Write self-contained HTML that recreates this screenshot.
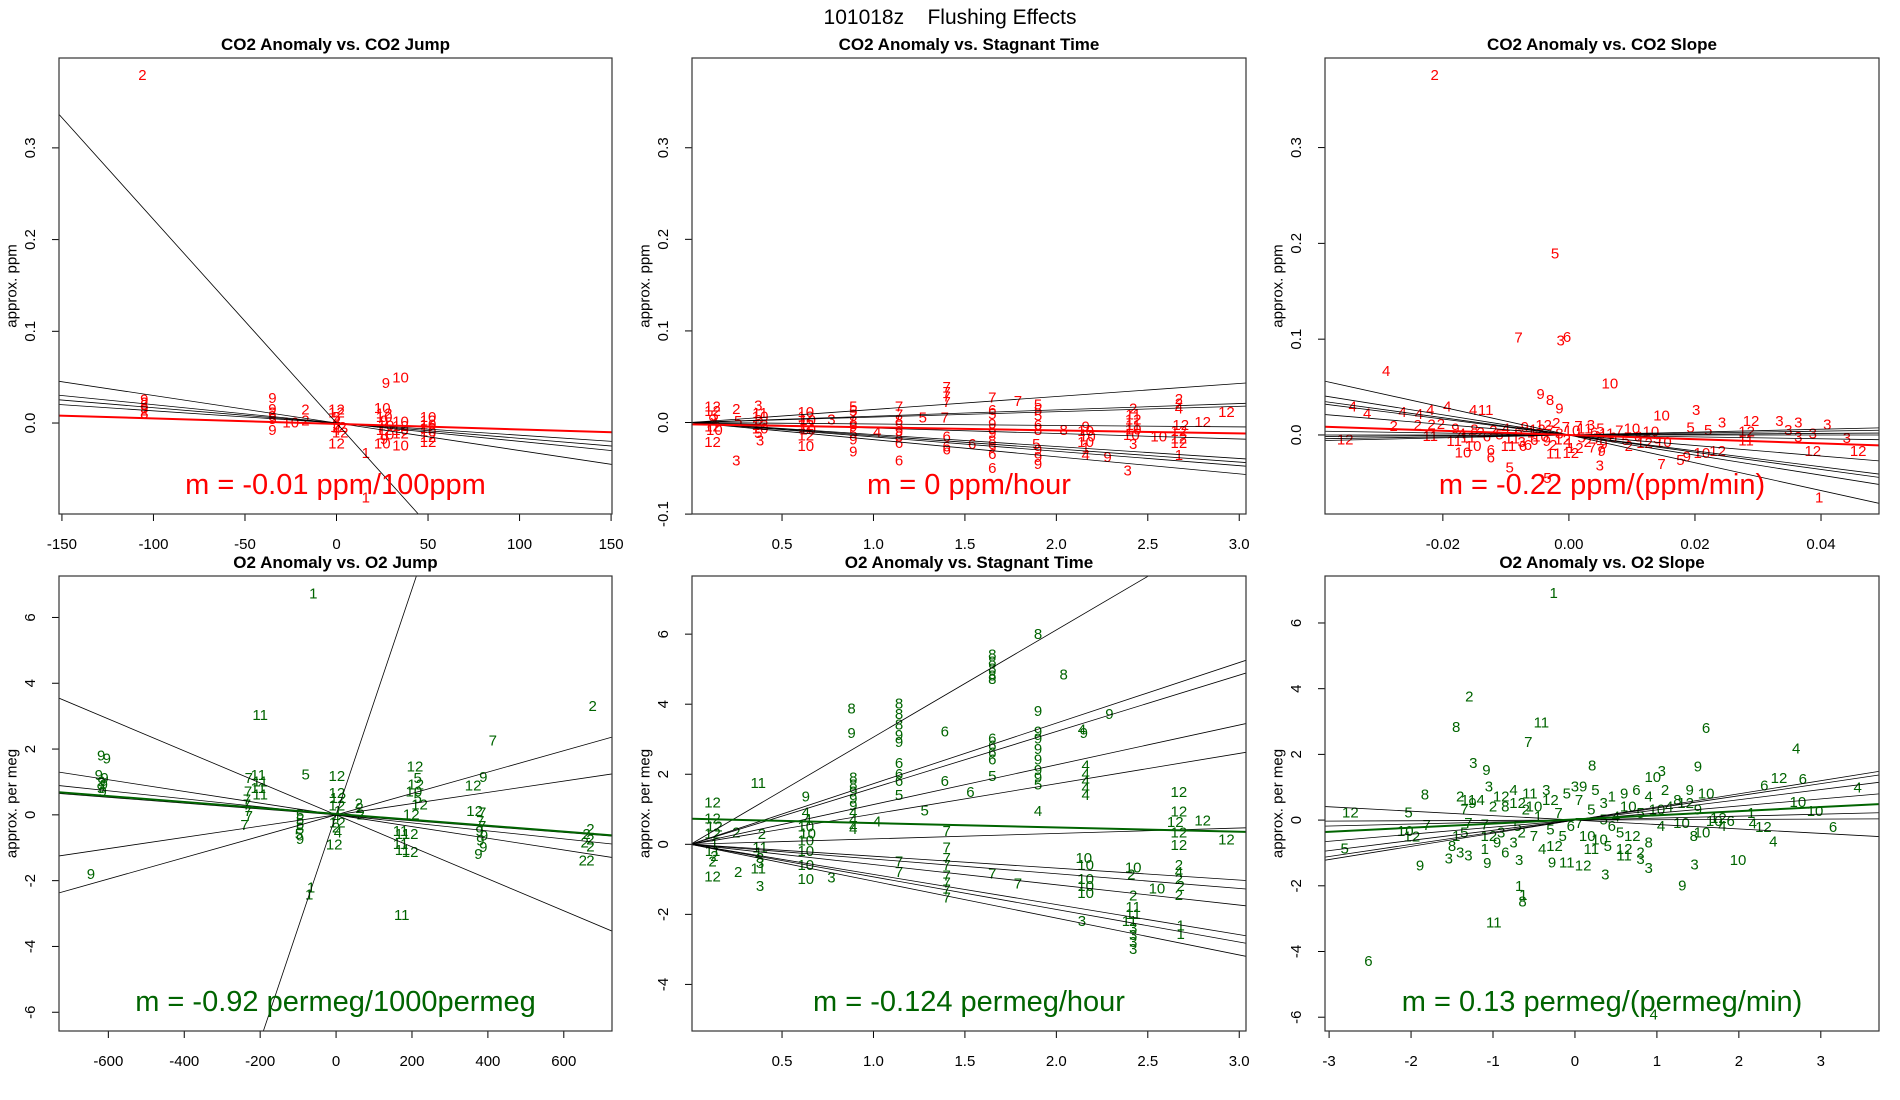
<!DOCTYPE html>
<html><head><meta charset="utf-8"><style>
html,body{margin:0;padding:0;background:#fff;width:1900px;height:1100px;overflow:hidden;}
svg{display:block;font-family:"Liberation Sans",Arial,sans-serif;}
</style></head><body>
<svg id="chart" width="1900" height="1100" viewBox="0 0 1900 1100" xmlns="http://www.w3.org/2000/svg">
<rect x="0" y="0" width="1900" height="1100" fill="#fff"/>
<text x="950" y="24" font-size="21" text-anchor="middle" style="white-space:pre">101018z    Flushing Effects</text>
</svg>
<script>
// ---------- data ----------
const co2JumpXTicks=[-150,-100,-50,0,50,100,150];
const co2YTicks=[0.0,0.1,0.2,0.3];
const co2YTickLabels=["0.0","0.1","0.2","0.3"];
const stagYTicks=[-0.1,0.0,0.1,0.2,0.3];
const stagYTickLabels=["-0.1","0.0","0.1","0.2","0.3"];
const timeXTicks=[0.5,1.0,1.5,2.0,2.5,3.0];
const timeXTickLabels=["0.5","1.0","1.5","2.0","2.5","3.0"];
const co2SlopeXTicks=[-0.02,0.0,0.02,0.04];
const co2SlopeXTickLabels=["-0.02","0.00","0.02","0.04"];
const o2JumpXTicks=[-600,-400,-200,0,200,400,600];
const o2YTicks=[-6,-4,-2,0,2,4,6];
const o2StagYTicks=[-4,-2,0,2,4,6];
const o2SlopeXTicks=[-3,-2,-1,0,1,2,3];

const co2JumpSlopes=[-0.00222,-0.0003,-0.0002,-0.000167,-0.000133];
const co2JumpFit=[-0.001,-0.00006];
const co2StagSlopes=[0.0142,0.0069,0.0059,-0.0016,-0.006,-0.0131,-0.0144,-0.0157,-0.0187];
const co2StagFit=[-0.002,-0.0033];
const co2SlopeSlopes=[-1.45,-1.05,-0.9,-0.83,-0.55,0.15,0.1,0.04,-0.1,0];
const co2SlopeFit=[0,-0.22];
const o2JumpSlopes=[0.0343,-0.00486,-0.00178,-0.00122,-0.00089,0.00171,0.00325];
const o2JumpFit=[0.03,-0.0009];
const o2StagSlopes=[3.06,1.73,1.61,1.135,0.865,0.155,-0.34,-0.42,-0.578,-0.86,-0.93,-1.053];
const o2StagFit=[0.73,-0.124];
const o2SlopeSlopes=[-0.135,0.01,0.06,0.215,0.31,0.37,0.40];
const o2SlopeFit=[0.02,0.126];

const co2JumpPoints=[[-106,0.379,'2'],[-105,0.025,'9'],[-105,0.022,'2'],[-105,0.019,'8'],[-105,0.016,'9'],[-105,0.013,'2'],[-105,0.010,'8'],
[-35,0.027,'9'],[-35,0.015,'9'],[-35,0.011,'2'],[-35,0.007,'9'],[-35,0.004,'5'],[-35,-0.008,'9'],[-25,0,'10'],[-17,0.014,'2'],[-17,0.002,'2'],
[0,0.014,'12'],[0,0.011,'12'],[0,0.006,'5'],[0,0.002,'4'],[0,-0.002,'5'],[1,-0.005,'12'],[0,-0.008,'4'],[2,-0.011,'12'],[0,-0.023,'12'],
[16,-0.033,'1'],[16,-0.082,'1'],[27,0.043,'9'],[35,0.049,'10'],[25,0.016,'10'],[26,0.010,'12'],[26,0.006,'10'],[26,0.002,'9'],[27,-0.003,'10'],[26,-0.008,'12'],[27,-0.013,'10'],[26,-0.018,'9'],[25,-0.023,'10'],
[35,0.001,'10'],[35,-0.004,'12'],[35,-0.008,'10'],[35,-0.012,'12'],[35,-0.025,'10'],
[50,0.006,'10'],[50,0.002,'12'],[50,-0.002,'10'],[50,-0.006,'12'],[50,-0.01,'10'],[50,-0.016,'12'],[50,-0.021,'12']];

const co2StagPoints=[[0.12,0.017,'12'],[0.12,0.012,'12'],[0.13,0.007,'5'],[0.12,0.003,'9'],[0.13,-0.001,'4'],[0.12,-0.005,'12'],[0.13,-0.009,'10'],[0.12,-0.022,'12'],
[0.25,0.014,'2'],[0.26,0.001,'5'],[0.25,-0.042,'3'],[0.37,0.018,'3'],[0.38,0.01,'11'],[0.38,0.006,'10'],[0.37,0.002,'3'],[0.38,-0.003,'12'],[0.38,-0.007,'10'],[0.37,-0.012,'5'],[0.38,-0.02,'3'],
[0.63,0.011,'10'],[0.63,0.006,'12'],[0.64,0.002,'10'],[0.63,-0.003,'12'],[0.64,-0.008,'10'],[0.63,-0.015,'12'],[0.63,-0.026,'10'],[0.77,0.003,'3'],
[0.89,0.017,'5'],[0.89,0.012,'5'],[0.89,0.006,'7'],[0.89,0.001,'8'],[0.89,-0.005,'9'],[0.89,-0.012,'5'],[0.89,-0.019,'9'],[0.89,-0.032,'9'],[1.02,-0.011,'4'],
[1.14,0.017,'7'],[1.14,0.008,'7'],[1.14,0.002,'8'],[1.14,-0.004,'5'],[1.14,-0.01,'9'],[1.14,-0.016,'8'],[1.14,-0.023,'6'],[1.14,-0.042,'6'],[1.27,0.005,'5'],
[1.4,0.038,'7'],[1.4,0.033,'7'],[1.4,0.028,'7'],[1.4,0.022,'7'],[1.39,0.005,'7'],[1.4,-0.016,'6'],[1.4,-0.03,'6'],[1.4,-0.027,'6'],
[1.65,0.027,'7'],[1.65,0.013,'6'],[1.65,0.009,'5'],[1.54,-0.024,'6'],[1.79,0.023,'7'],
[1.65,-0.002,'9'],[1.65,-0.007,'8'],[1.65,-0.012,'9'],[1.65,-0.02,'8'],[1.65,-0.028,'9'],[1.65,-0.035,'6'],[1.65,-0.05,'6'],
[1.9,0.019,'5'],[1.9,0.013,'5'],[1.9,0.007,'5'],[1.9,-0.003,'6'],[1.9,-0.009,'8'],[1.89,-0.024,'5'],[1.9,-0.03,'9'],[1.9,-0.038,'9'],[1.9,-0.046,'9'],[2.04,-0.009,'8'],
[2.16,-0.005,'9'],[2.16,-0.01,'10'],[2.17,-0.016,'10'],[2.16,-0.022,'10'],[2.16,-0.028,'1'],[2.16,-0.036,'4'],[2.28,-0.038,'9'],
[2.42,0.015,'2'],[2.42,0.008,'11'],[2.42,0.003,'12'],[2.42,-0.003,'11'],[2.42,-0.008,'10'],[2.41,-0.014,'10'],[2.42,-0.024,'3'],[2.39,-0.053,'3'],[2.56,-0.016,'10'],
[2.67,0.025,'2'],[2.67,0.02,'2'],[2.67,0.015,'4'],[2.68,-0.003,'12'],[2.67,-0.01,'12'],[2.67,-0.018,'12'],[2.67,-0.023,'12'],[2.67,-0.036,'1'],[2.80,0.0,'12'],[2.93,0.011,'12']];

const co2SlopePoints=[[-0.0213,0.375,'2'],[-0.0022,0.189,'5'],[-0.008,0.101,'7'],[-0.0013,0.098,'3'],[-0.0003,0.102,'6'],[-0.029,0.066,'4'],[0.0065,0.053,'10'],[-0.0045,0.042,'9'],[-0.003,0.036,'8'],[-0.0015,0.027,'9'],
[-0.0343,0.029,'4'],[-0.032,0.022,'4'],[-0.0264,0.0235,'4'],[-0.0238,0.0216,'4'],[-0.022,0.0253,'4'],[-0.0193,0.029,'4'],[-0.0152,0.0253,'4'],[-0.0132,0.0253,'11'],
[-0.0278,0.0086,'2'],[-0.024,0.0097,'2'],[-0.0218,0.0104,'2'],[-0.0203,0.011,'2'],[-0.0355,-0.0052,'12'],[-0.022,-0.0015,'11'],[-0.0182,-0.007,'11'],[-0.0168,-0.0186,'10'],[-0.0152,-0.012,'10'],
[-0.0124,-0.0239,'6'],[-0.0124,-0.0164,'6'],[-0.0096,-0.012,'11'],[-0.0073,-0.012,'6'],[-0.0094,-0.0343,'5'],[-0.0034,-0.0455,'5'],[-0.0024,-0.02,'11'],[0.0003,-0.0194,'12'],[0.0049,-0.0324,'3'],
[0.0037,-0.0138,'7'],[0.0052,-0.0175,'9'],[0.0147,-0.0306,'7'],[0.0177,-0.0268,'5'],[0.0187,-0.0231,'9'],[0.0211,-0.0194,'10'],[0.0236,-0.0175,'12'],[0.0387,-0.0175,'12'],[0.0459,-0.0175,'12'],[0.0397,-0.066,'1'],
[0.0289,0.0142,'12'],[0.0243,0.0123,'3'],[0.0193,0.0075,'5'],[0.0221,0.0048,'5'],[0.0334,0.0142,'3'],[0.0348,0.0048,'3'],[0.0364,0.0123,'3'],[0.0387,0.0011,'3'],[0.041,0.0104,'3'],[0.0441,-0.0037,'3'],
[0.0281,-0.0063,'11'],[0.0364,-0.0026,'3'],[0.0282,0.003,'12'],[0.0147,0.0198,'10'],[0.0202,0.0253,'3'],
[-0.018,0.006,'9'],[-0.017,0.001,'4'],[-0.016,-0.003,'11'],[-0.015,0.005,'8'],[-0.014,0.002,'2'],[-0.013,-0.002,'6'],[-0.012,0.004,'2'],[-0.011,0.0,'5'],[-0.010,0.006,'4'],[-0.009,-0.004,'11'],
[-0.008,0.003,'6'],[-0.0075,-0.008,'3'],[-0.007,0.008,'9'],[-0.006,0.002,'1'],[-0.0055,-0.006,'6'],[-0.005,0.005,'12'],[-0.0045,-0.002,'10'],[-0.004,0.010,'12'],[-0.0035,-0.007,'9'],[-0.003,0.004,'7'],
[-0.0025,-0.011,'2'],[-0.002,0.012,'2'],[-0.0015,0.001,'8'],[-0.001,-0.005,'12'],[-0.0005,0.008,'7'],[0,-0.009,'1'],[0.0005,0.004,'10'],[0.001,-0.014,'12'],[0.0015,0.009,'7'],[0.002,-0.003,'5'],
[0.0025,0.006,'11'],[0.003,-0.008,'2'],[0.0035,0.010,'3'],[0.004,0.002,'6'],[0.0045,-0.004,'7'],[0.005,0.006,'5'],[0.0055,-0.01,'9'],[0.006,0.001,'11'],[0.007,-0.003,'6'],[0.008,0.004,'7'],
[0.009,-0.006,'5'],[0.010,0.006,'10'],[0.011,-0.002,'8'],[0.012,-0.009,'12'],[0.013,0.003,'10'],[0.014,-0.004,'5'],[0.015,-0.008,'10'],[0.005,-0.015,'7'],[-0.0065,-0.011,'6'],[0.0095,-0.012,'2']];

const o2JumpPoints=[[-60,6.72,'1'],[-200,3.02,'11'],[676,3.29,'2'],[413,2.25,'7'],
[-619,1.79,'9'],[-604,1.70,'9'],[-625,1.2,'9'],[-610,1.1,'9'],[-618,1.0,'9'],[-612,0.9,'9'],[-620,0.8,'9'],[-615,0.7,'9'],[-646,-1.82,'9'],[-80,1.21,'5'],
[-230,1.1,'7'],[-205,1.2,'11'],[-200,1.0,'11'],[-205,0.8,'11'],[-232,0.7,'7'],[-200,0.6,'11'],[-235,0.45,'7'],[-235,0.3,'7'],[-232,0.1,'7'],[-230,-0.05,'7'],[-241,-0.33,'7'],
[-95,0.0,'5'],[-95,-0.15,'5'],[-95,-0.3,'5'],[-95,-0.45,'5'],[-98,-0.6,'5'],[-95,-0.75,'9'],
[2,1.16,'12'],[2,0.65,'12'],[5,0.5,'12'],[2,0.27,'12'],[5,0.1,'1'],[0,-0.1,'4'],[3,-0.25,'12'],[0,-0.4,'2'],[5,-0.55,'4'],[-5,-0.92,'12'],
[60,0.33,'2'],[62,0.2,'2'],[65,0.0,'2'],[-66,-2.22,'1'],[-71,-2.44,'1'],[173,-3.06,'11'],
[208,1.46,'12'],[215,1.1,'5'],[210,0.9,'12'],[205,0.7,'10'],[215,0.5,'5'],[220,0.3,'12'],[198,0.0,'12'],
[170,-0.5,'11'],[175,-0.6,'11'],[195,-0.6,'12'],[170,-0.9,'11'],[175,-1.08,'11'],[195,-1.14,'12'],
[361,0.87,'12'],[388,1.14,'9'],[365,0.1,'12'],[385,0.05,'7'],[380,-0.2,'7'],[385,-0.35,'7'],[378,-0.5,'9'],[390,-0.65,'9'],[380,-0.8,'9'],[388,-1.0,'9'],[375,-1.2,'9'],
[670,-0.45,'2'],[660,-0.6,'2'],[670,-0.76,'2'],[655,-0.85,'2'],[670,-0.98,'2'],[650,-1.41,'2'],[670,-1.41,'2']];

const o2StagPoints=[[0.12,1.18,'12'],[0.12,0.72,'12'],[0.13,0.5,'12'],[0.12,0.3,'12'],[0.13,0.0,'1'],[0.12,-0.2,'11'],[0.13,-0.35,'2'],[0.12,-0.5,'2'],[0.12,-0.94,'12'],
[0.25,0.32,'2'],[0.26,-0.8,'2'],[0.37,1.74,'11'],[0.39,0.28,'2'],[0.38,-0.1,'11'],[0.37,-0.25,'1'],[0.38,-0.4,'3'],[0.38,-0.55,'3'],[0.37,-0.7,'11'],[0.38,-1.21,'3'],
[0.63,1.35,'9'],[0.63,0.9,'4'],[0.64,0.7,'4'],[0.63,0.5,'10'],[0.64,0.3,'10'],[0.63,0.1,'10'],[0.63,-0.2,'10'],[0.63,-0.6,'10'],[0.63,-1.0,'10'],[0.77,-0.96,'3'],
[0.88,3.87,'8'],[0.88,3.16,'9'],[0.89,1.9,'8'],[0.89,1.7,'8'],[0.89,1.5,'9'],[0.89,1.3,'9'],[0.89,1.1,'9'],[0.89,0.9,'4'],[0.89,0.7,'4'],[0.89,0.5,'4'],[0.89,0.42,'4'],[1.02,0.64,'4'],
[1.14,4.0,'8'],[1.14,3.7,'8'],[1.14,3.4,'8'],[1.14,3.1,'9'],[1.14,2.9,'9'],[1.14,2.3,'6'],[1.14,2.0,'6'],[1.14,1.8,'6'],[1.14,1.4,'5'],[1.14,-0.5,'7'],[1.14,-0.8,'7'],
[1.28,0.95,'5'],[1.39,3.21,'6'],[1.39,1.79,'6'],
[1.4,0.37,'7'],[1.4,-0.1,'7'],[1.4,-0.4,'7'],[1.4,-0.6,'7'],[1.4,-0.9,'7'],[1.4,-1.1,'7'],[1.4,-1.3,'7'],[1.4,-1.54,'7'],[1.53,1.48,'6'],
[1.65,5.4,'8'],[1.65,5.2,'8'],[1.65,5.0,'8'],[1.65,4.8,'8'],[1.65,4.7,'8'],[1.65,3.0,'6'],[1.65,2.8,'6'],[1.65,2.6,'6'],[1.65,2.4,'6'],[1.65,1.94,'5'],[1.65,-0.85,'7'],
[1.9,5.99,'8'],[2.04,4.84,'8'],[1.9,3.79,'9'],[1.9,3.2,'9'],[1.9,3.0,'9'],[1.9,2.7,'9'],[1.9,2.4,'9'],[1.9,2.1,'9'],[1.9,1.9,'9'],[1.9,1.7,'5'],[1.9,0.93,'4'],
[1.79,-1.14,'7'],[2.29,3.7,'9'],[2.14,3.26,'4'],[2.15,3.16,'9'],[2.16,2.23,'4'],[2.16,2.0,'4'],[2.16,1.8,'4'],[2.16,1.6,'4'],[2.16,1.4,'4'],
[2.15,-0.4,'10'],[2.16,-0.6,'10'],[2.16,-1.0,'10'],[2.16,-1.2,'10'],[2.16,-1.4,'10'],[2.14,-2.2,'3'],[2.42,-0.68,'10'],[2.41,-0.87,'2'],[2.55,-1.28,'10'],
[2.42,-1.48,'2'],[2.42,-1.8,'11'],[2.42,-2.0,'11'],[2.4,-2.2,'11'],[2.42,-2.4,'3'],[2.42,-2.6,'3'],[2.42,-2.8,'3'],[2.42,-3.0,'3'],
[2.67,1.48,'12'],[2.67,0.92,'12'],[2.65,0.62,'12'],[2.67,0.32,'12'],[2.67,-0.04,'12'],[2.67,-0.6,'2'],[2.67,-0.8,'4'],[2.67,-1.0,'2'],[2.68,-1.2,'2'],[2.67,-1.46,'2'],[2.68,-2.33,'1'],[2.68,-2.58,'1'],
[2.80,0.67,'12'],[2.93,0.13,'12']];

const o2SlopePoints=[[-0.26,6.89,'1'],[-1.29,3.74,'2'],[-1.45,2.82,'8'],[-0.41,2.95,'11'],[-0.57,2.36,'7'],[1.60,2.79,'6'],[2.70,2.16,'4'],[-1.24,1.73,'3'],[-1.08,1.51,'9'],[0.21,1.65,'8'],
[1.50,1.62,'9'],[1.06,1.48,'3'],[2.49,1.26,'12'],[2.78,1.24,'6'],[3.45,0.97,'4'],[2.31,1.04,'6'],[-2.74,0.21,'12'],[-2.03,0.21,'5'],[-1.83,0.77,'8'],[2.72,0.53,'10'],
[2.93,0.26,'10'],[3.15,-0.23,'6'],[2.42,-0.66,'4'],[2.30,-0.23,'12'],[2.17,-0.12,'4'],[2.15,0.2,'1'],[-2.81,-0.88,'5'],[-2.07,-0.34,'10'],[-1.99,-0.52,'12'],[-1.81,-0.17,'7'],
[-1.89,-1.39,'9'],[-1.54,-1.18,'3'],[-1.07,-1.32,'9'],[-0.68,-1.23,'3'],[1.99,-1.23,'10'],[1.46,-1.37,'3'],[0.37,-1.67,'3'],[0.9,-1.48,'3'],[1.31,-2.0,'9'],[-0.68,-2.02,'1'],
[-0.63,-2.29,'1'],[-0.64,-2.49,'8'],[-0.99,-3.14,'11'],[-2.52,-4.30,'6'],[0.96,-5.93,'4'],[-0.28,-1.3,'9'],[-0.1,-1.3,'11'],[0.1,-1.4,'12'],[0.6,-1.1,'11'],[0.8,-1.2,'3'],
[-1.4,0.7,'2'],[-1.3,0.6,'11'],[-1.35,0.3,'7'],[-1.3,-0.1,'7'],[-1.35,-0.4,'5'],[-1.45,-0.5,'1'],[-1.5,-0.8,'8'],[-1.4,-1.0,'3'],[-1.3,-1.1,'3'],[-1.25,0.5,'9'],
[-1.15,0.6,'4'],[-1.05,1.0,'3'],[-1.0,0.4,'2'],[-1.1,-0.9,'1'],[-1.05,-0.5,'12'],[-0.95,-0.7,'9'],[-0.9,0.7,'12'],[-0.85,0.4,'8'],[-0.9,-0.4,'3'],[-0.85,-1.0,'6'],
[-0.75,-0.7,'3'],[-0.75,0.9,'4'],[-0.7,0.5,'12'],[-0.65,-0.4,'2'],[-0.6,0.3,'2'],[-0.55,0.8,'11'],[-0.5,0.4,'10'],[-0.5,-0.5,'7'],[-0.45,0.1,'1'],[-0.4,-0.9,'4'],
[-0.35,0.9,'3'],[-0.3,0.6,'12'],[-0.3,-0.3,'5'],[-0.25,-0.8,'12'],[-0.2,0.2,'7'],[-0.15,-0.5,'5'],[-0.1,0.8,'5'],[-0.05,-0.2,'6'],[0,1.0,'3'],[0.05,0.6,'7'],
[0.05,-0.1,'7'],[0.1,1.0,'9'],[0.15,-0.5,'10'],[0.2,0.3,'5'],[0.2,-0.9,'11'],[0.25,0.9,'5'],[0.3,-0.6,'10'],[0.35,0.5,'3'],[0.35,0.0,'5'],[0.4,-0.8,'5'],
[0.45,0.7,'1'],[0.5,0.1,'4'],[0.55,-0.4,'5'],[0.6,0.8,'9'],[0.65,0.4,'10'],[0.7,-0.5,'12'],[0.75,0.9,'6'],[0.8,0.2,'5'],[0.8,-1.0,'2'],[0.9,0.7,'4'],
[0.95,1.3,'10'],[1.0,0.3,'10'],[1.05,-0.2,'4'],[1.1,0.9,'2'],[1.15,0.4,'4'],[1.25,0.6,'8'],[1.3,-0.1,'10'],[1.35,0.5,'12'],[1.4,0.9,'9'],[1.45,-0.5,'8'],
[1.5,0.3,'9'],[1.55,-0.4,'10'],[1.6,0.8,'10'],[1.7,-0.05,'10'],[1.8,-0.2,'4'],[1.75,0.05,'12'],[1.9,-0.05,'6'],[-1.1,-0.15,'7'],[0.6,-0.9,'12'],[-0.7,-0.2,'5'],[0.9,-0.7,'8'],[0.45,-0.2,'6']];

// ---------- panels ----------
const RED="#ff0000", GREEN="#006400";
const panels=[
 {id:"co2-jump",title:"CO2 Anomaly vs. CO2 Jump",ytitle:"approx. ppm",L:59,R:612,T:58,B:514,x0:-151.6,x1:150.5,y0:-0.0992,y1:0.398,
  xt:co2JumpXTicks,xl:co2JumpXTicks.map(String),yt:co2YTicks,yl:co2YTickLabels,slopes:co2JumpSlopes,fit:co2JumpFit,pts:co2JumpPoints,col:RED,m:"m = -0.01 ppm/100ppm",mY:494},
 {id:"co2-stagnant",title:"CO2 Anomaly vs. Stagnant Time",ytitle:"approx. ppm",L:692,R:1246,T:58,B:514,x0:0.0077,x1:3.037,y0:-0.0999,y1:0.398,
  xt:timeXTicks,xl:timeXTickLabels,yt:stagYTicks,yl:stagYTickLabels,slopes:co2StagSlopes,fit:co2StagFit,pts:co2StagPoints,col:RED,m:"m = 0 ppm/hour",mY:494},
 {id:"co2-slope",title:"CO2 Anomaly vs. CO2 Slope",ytitle:"approx. ppm",L:1325,R:1879,T:58,B:514,x0:-0.0387,x1:0.0492,y0:-0.0825,y1:0.3935,
  xt:co2SlopeXTicks,xl:co2SlopeXTickLabels,yt:co2YTicks,yl:co2YTickLabels,slopes:co2SlopeSlopes,fit:co2SlopeFit,pts:co2SlopePoints,col:RED,m:"m = -0.22 ppm/(ppm/min)",mY:494},
 {id:"o2-jump",title:"O2 Anomaly vs. O2 Jump",ytitle:"approx. per meg",L:59,R:612,T:576,B:1031,x0:-730,x1:727,y0:-6.57,y1:7.26,
  xt:o2JumpXTicks,xl:o2JumpXTicks.map(String),yt:o2YTicks,yl:o2YTicks.map(String),slopes:o2JumpSlopes,fit:o2JumpFit,pts:o2JumpPoints,col:GREEN,m:"m = -0.92 permeg/1000permeg",mY:1011},
 {id:"o2-stagnant",title:"O2 Anomaly vs. Stagnant Time",ytitle:"approx. per meg",L:692,R:1246,T:576,B:1031,x0:0.0077,x1:3.037,y0:-5.33,y1:7.66,
  xt:timeXTicks,xl:timeXTickLabels,yt:o2StagYTicks,yl:o2StagYTicks.map(String),slopes:o2StagSlopes,fit:o2StagFit,pts:o2StagPoints,col:GREEN,m:"m = -0.124 permeg/hour",mY:1011},
 {id:"o2-slope",title:"O2 Anomaly vs. O2 Slope",ytitle:"approx. per meg",L:1325,R:1879,T:576,B:1031,x0:-3.05,x1:3.71,y0:-6.42,y1:7.43,
  xt:o2SlopeXTicks,xl:o2SlopeXTicks.map(String),yt:o2YTicks,yl:o2YTicks.map(String),slopes:o2SlopeSlopes,fit:o2SlopeFit,pts:o2SlopePoints,col:GREEN,m:"m = 0.13 permeg/(permeg/min)",mY:1011}
];

const NS="http://www.w3.org/2000/svg";
const svg=document.getElementById("chart");
function mk(tag,attrs,parent,txt){const e=document.createElementNS(NS,tag);for(const k in attrs)e.setAttribute(k,attrs[k]);if(txt!==undefined)e.textContent=txt;parent.appendChild(e);return e;}

panels.forEach((p,i)=>{
  const sx=x=>p.L+(x-p.x0)/(p.x1-p.x0)*(p.R-p.L);
  const sy=y=>p.B-(y-p.y0)/(p.y1-p.y0)*(p.B-p.T);
  const g=mk("g",{},svg);
  
  
  const defs=mk("defs",{},g);
  const cp=mk("clipPath",{id:"clip"+i},defs);
  mk("rect",{x:p.L,y:p.T,width:p.R-p.L,height:p.B-p.T},cp);
  const t=mk("text",{x:(p.L+p.R)/2,y:p.T-8,"font-size":17,"font-weight":"bold","text-anchor":"middle"},g,p.title);
  
  
  const yc=(p.T+p.B)/2;
  const yt=mk("text",{x:p.L-47,y:yc,"font-size":15,"text-anchor":"middle","dominant-baseline":"central",transform:`rotate(-90 ${p.L-47} ${yc})`},g,p.ytitle);
  
  
  const xa=mk("g",{},g);
  
  
  mk("line",{x1:sx(p.xt[0]),x2:sx(p.xt[p.xt.length-1]),y1:p.B,y2:p.B,stroke:"#000","stroke-width":1},xa);
  p.xt.forEach((v,k)=>{
    const X=sx(v);
    mk("line",{x1:X,x2:X,y1:p.B,y2:p.B+7,stroke:"#000","stroke-width":1},xa);
    const tl=mk("text",{x:X,y:p.B+35,"font-size":15,"text-anchor":"middle"},xa,p.xl[k]);
    
    
  });
  const ya=mk("g",{},g);
  
  
  mk("line",{x1:p.L,x2:p.L,y1:sy(p.yt[0]),y2:sy(p.yt[p.yt.length-1]),stroke:"#000","stroke-width":1},ya);
  p.yt.forEach((v,k)=>{
    const Y=sy(v);
    mk("line",{x1:p.L-7,x2:p.L,y1:Y,y2:Y,stroke:"#000","stroke-width":1},ya);
    const lx=p.L-24;
    const tl=mk("text",{x:lx,y:Y,"font-size":15,"text-anchor":"middle",transform:`rotate(-90 ${lx} ${Y})`},ya,p.yl[k]);
    
    
  });
  const plot=mk("g",{"clip-path":`url(#clip${i})`},g);
  p.pts.forEach(pt=>{
    const e=mk("text",{x:sx(pt[0]),y:sy(pt[1]),"font-size":15,"text-anchor":"middle","dominant-baseline":"central",fill:p.col},plot,pt[2]);
    
    
  });
  p.slopes.forEach(s=>{
    const e=mk("line",{x1:sx(p.x0),y1:sy(s*p.x0),x2:sx(p.x1),y2:sy(s*p.x1),stroke:"#000","stroke-width":0.8},plot);
    
    
  });
  const f=mk("line",{x1:sx(p.x0),y1:sy(p.fit[0]+p.fit[1]*p.x0),x2:sx(p.x1),y2:sy(p.fit[0]+p.fit[1]*p.x1),stroke:p.col,"stroke-width":2},plot);
  
  
  const m=mk("text",{x:(p.L+p.R)/2,y:p.mY,"font-size":29,"text-anchor":"middle",fill:p.col},g,p.m);
  
  
  const b=mk("rect",{x:p.L,y:p.T,width:p.R-p.L,height:p.B-p.T,fill:"none",stroke:"#333","stroke-width":1.2},g);
  
  
});
</script>
</body></html>
